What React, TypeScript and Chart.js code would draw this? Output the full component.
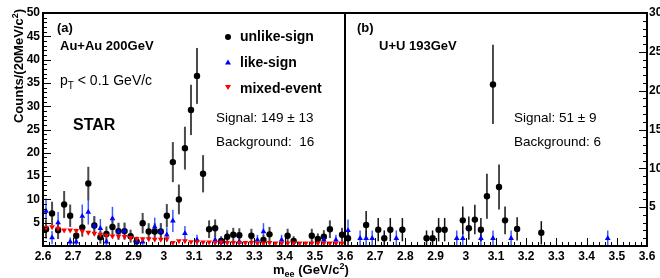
import React, { useEffect, useRef } from 'react';
import { Chart, registerables } from 'chart.js';

Chart.register(...registerables);

const FONT = '"Liberation Sans", Arial, Helvetica, sans-serif';

// ---- Panel (a): Au+Au 200 GeV ----
const auUnlikeMass = [2.61, 2.63, 2.65, 2.67, 2.69, 2.71, 2.73, 2.75, 2.77, 2.79, 2.81, 2.83, 2.85, 2.87, 2.89, 2.91, 2.93, 2.95, 2.97, 2.99, 3.01, 3.03, 3.05, 3.07, 3.09, 3.11, 3.13, 3.15, 3.17, 3.19, 3.21, 3.23, 3.25, 3.29, 3.33, 3.35, 3.41, 3.43, 3.49, 3.51, 3.53, 3.55, 3.59];
const auUnlike = [3.6, 7.0, 3.4, 8.9, 6.5, 2.2, 4.0, 13.4, 4.4, 1.9, 2.6, 4.1, 3.2, 3.2, 2.1, 1.0, 4.9, 3.1, 3.1, 3.1, 6.5, 18.0, 10.0, 21.0, 29.2, 36.5, 15.5, 3.6, 3.8, 1.1, 2.0, 2.4, 2.3, 2.2, 1.3, 2.5, 2.2, 1.1, 2.2, 1.5, 2.0, 3.6, 2.4];
const auUnlikeErr = [2.0, 2.5, 1.9, 2.9, 2.4, 1.5, 2.0, 3.6, 2.0, 1.4, 1.6, 2.0, 1.8, 1.8, 1.4, 1.0, 2.2, 1.8, 1.8, 1.8, 2.5, 4.3, 3.2, 4.6, 5.4, 6.0, 4.0, 1.9, 1.9, 1.0, 1.4, 1.5, 1.5, 1.5, 1.1, 1.6, 1.5, 1.0, 1.5, 1.2, 1.4, 1.9, 1.5];

const auLikeMass = [2.61, 2.63, 2.65, 2.69, 2.71, 2.73, 2.75, 2.77, 2.79, 2.81, 2.83, 2.85, 2.87, 2.91, 2.93, 2.97, 2.99, 3.01, 3.03, 3.07, 3.11, 3.17, 3.19, 3.25, 3.31, 3.33, 3.39, 3.53, 3.57];
const auLike = [7.5, 1.8, 5.0, 0.9, 0.9, 6.4, 7.3, 4.3, 3.8, 0.9, 5.9, 3.1, 3.2, 0.9, 0.9, 4.1, 3.1, 2.4, 5.4, 2.7, 1.3, 1.3, 0.9, 0.9, 1.3, 3.1, 1.3, 1.3, 1.3];
const auLikeErr = [2.7, 1.4, 2.3, 0.9, 0.9, 2.5, 2.7, 2.1, 2.0, 0.9, 2.5, 1.8, 1.8, 0.9, 0.9, 2.0, 1.8, 1.5, 2.4, 1.6, 1.1, 1.1, 0.9, 0.9, 1.1, 1.8, 1.1, 1.1, 1.1];

const auMixedMass = [2.61, 2.63, 2.65, 2.67, 2.69, 2.71, 2.73, 2.75, 2.77, 2.79, 2.81, 2.83, 2.85, 2.87, 2.89, 2.91, 2.93, 2.95, 2.97, 2.99, 3.01, 3.03, 3.05, 3.07, 3.09, 3.11, 3.13, 3.15, 3.17, 3.19, 3.21, 3.23, 3.25, 3.27, 3.29, 3.31, 3.33, 3.35, 3.37, 3.39, 3.41, 3.43, 3.45, 3.47, 3.49, 3.51, 3.53, 3.55, 3.57, 3.59];
const auMixed = [4.0, 4.1, 3.8, 3.4, 3.4, 3.3, 3.2, 2.9, 2.7, 2.5, 2.3, 2.1, 2.1, 2.0, 1.8, 1.6, 1.5, 1.5, 1.4, 1.4, 1.5, 0.7, 1.1, 1.1, 0.9, 0.9, 0.8, 0.8, 0.7, 0.8, 0.7, 0.7, 0.7, 0.7, 0.7, 0.6, 0.6, 0.7, 0.6, 0.6, 0.6, 0.6, 0.6, 0.6, 0.6, 0.6, 0.6, 0.6, 0.6, 0.6];

// ---- Panel (b): U+U 193 GeV ----
const uuUnlikeMass = [2.61, 2.67, 2.71, 2.73, 2.75, 2.79, 2.87, 2.89, 2.91, 2.93, 2.99, 3.01, 3.03, 3.05, 3.07, 3.09, 3.11, 3.13, 3.17, 3.25];
const uuUnlike = [1.0, 2.7, 2.1, 1.0, 2.1, 2.1, 1.0, 1.0, 2.1, 2.1, 3.3, 2.3, 3.4, 2.1, 6.4, 20.8, 7.6, 3.3, 2.2, 1.7];
const uuUnlikeErr = [1.0, 1.8, 1.5, 1.0, 1.5, 1.5, 1.0, 1.0, 1.5, 1.5, 1.8, 1.5, 1.9, 1.5, 2.9, 5.1, 2.9, 1.8, 1.5, 1.5];

const uuLikeMass = [2.61, 2.65, 2.67, 2.69, 2.77, 2.97, 2.99, 3.05, 3.09, 3.15, 3.47];
const uuLike = [2.0, 1.0, 1.0, 1.0, 1.0, 1.0, 1.0, 1.0, 1.0, 1.0, 1.0];
const uuLikeErr = [1.4, 1.0, 1.0, 1.0, 1.0, 1.0, 1.0, 1.0, 1.0, 1.0, 1.0];

// axis
const X_MIN = 2.6;
const X_SPLIT = 3.6;
const PANEL_OFFSET = 1.0; // panel (b) is placed after panel (a) on one shared axis
const Y_LEFT_MAX = 50;
const Y_RIGHT_MAX = 30;

const pts = (mass: number[], vals: number[], off = 0) => mass.map((m, i) => ({ x: m + off, y: vals[i] }));

const errorBars = {
  id: 'errorBars',
  beforeDatasetsDraw(chart: any) {
    const ctx = chart.ctx;
    chart.data.datasets.forEach((ds: any) => {
      if (!ds.errors) return;
      const xs = chart.scales.x;
      const ys = chart.scales[ds.yAxisID];
      ctx.save();
      ctx.strokeStyle = ds.errorColor;
      ctx.lineWidth = ds.errorWidth;
      ds.data.forEach((p: any, j: number) => {
        const e = ds.errors[j];
        if (!e) return;
        const px = xs.getPixelForValue(p.x);
        const y1 = ys.getPixelForValue(Math.max(0, p.y - e));
        const y2 = ys.getPixelForValue(Math.min(ys.max, p.y + e));
        ctx.beginPath();
        ctx.moveTo(px, y1);
        ctx.lineTo(px, y2);
        ctx.stroke();
      });
      ctx.restore();
    });
  },
};

const frame = {
  id: 'frame',
  afterDatasetsDraw(chart: any) {
    const ctx = chart.ctx;
    const { left, right, top, bottom } = chart.chartArea;
    const xs = chart.scales.x;
    const yl = chart.scales.y;
    const yr = chart.scales.y2;
    ctx.save();
    ctx.strokeStyle = '#000';
    ctx.lineWidth = 1;
    for (let i = 0; i <= 100; i++) {
      const px = Math.round(xs.getPixelForValue(X_MIN + i * 0.02)) + 0.5;
      const len = i % 5 === 0 ? 8 : 4;
      ctx.beginPath();
      ctx.moveTo(px, bottom);
      ctx.lineTo(px, bottom - len);
      ctx.stroke();
    }
    for (let v = 0; v <= Y_LEFT_MAX; v++) {
      const py = Math.round(yl.getPixelForValue(v)) + 0.5;
      const len = v % 5 === 0 ? 8 : 4;
      ctx.beginPath();
      ctx.moveTo(left, py);
      ctx.lineTo(left + len, py);
      ctx.stroke();
    }
    for (let v = 0; v <= Y_RIGHT_MAX; v++) {
      const py = Math.round(yr.getPixelForValue(v)) + 0.5;
      const len = v % 5 === 0 ? 8 : 4;
      ctx.beginPath();
      ctx.moveTo(right, py);
      ctx.lineTo(right - len, py);
      ctx.stroke();
    }
    ctx.lineWidth = 2;
    ctx.strokeRect(left, top, right - left, bottom - top);
    const sx = xs.getPixelForValue(X_SPLIT);
    ctx.beginPath();
    ctx.moveTo(sx, top);
    ctx.lineTo(sx, bottom);
    ctx.stroke();
    ctx.restore();
  },
};

const tickFont = { family: FONT, size: 12, weight: 'bold' as const };
const noGrid = { display: false, drawTicks: false, tickLength: 0 };

export default function App() {
  const ref = useRef<HTMLCanvasElement>(null);
  useEffect(() => {
    if (!ref.current) return;
    const common = { showLine: false, clip: false as any, borderWidth: 0 };
    const chart = new Chart(ref.current, {
      type: 'scatter',
      data: {
        datasets: [
          {
            ...common,
            label: 'mixed-event (Au+Au)',
            data: pts(auMixedMass, auMixed),
            yAxisID: 'y',
            pointStyle: 'triangle',
            rotation: 180,
            pointRadius: 3.3,
            backgroundColor: '#ff0000',
            borderColor: '#ff0000',
          } as any,
          {
            ...common,
            label: 'like-sign (Au+Au)',
            data: pts(auLikeMass, auLike),
            errors: auLikeErr,
            errorColor: '#3a5cff',
            errorWidth: 1.5,
            yAxisID: 'y',
            pointStyle: 'triangle',
            pointRadius: 3.3,
            backgroundColor: '#0000ff',
            borderColor: '#0000ff',
          } as any,
          {
            ...common,
            label: 'unlike-sign (Au+Au)',
            data: pts(auUnlikeMass, auUnlike),
            errors: auUnlikeErr,
            errorColor: '#4a4a4a',
            errorWidth: 2,
            yAxisID: 'y',
            pointStyle: 'circle',
            pointRadius: 3.2,
            backgroundColor: '#000',
            borderColor: '#000',
          } as any,
          {
            ...common,
            label: 'like-sign (U+U)',
            data: pts(uuLikeMass, uuLike, PANEL_OFFSET),
            errors: uuLikeErr,
            errorColor: '#3a5cff',
            errorWidth: 1.5,
            yAxisID: 'y2',
            pointStyle: 'triangle',
            pointRadius: 3.3,
            backgroundColor: '#0000ff',
            borderColor: '#0000ff',
          } as any,
          {
            ...common,
            label: 'unlike-sign (U+U)',
            data: pts(uuUnlikeMass, uuUnlike, PANEL_OFFSET),
            errors: uuUnlikeErr,
            errorColor: '#111',
            errorWidth: 1.5,
            yAxisID: 'y2',
            pointStyle: 'circle',
            pointRadius: 3.2,
            backgroundColor: '#000',
            borderColor: '#000',
          } as any,
        ],
      },
      options: {
        animation: false,
        responsive: false,
        maintainAspectRatio: false,
        layout: { padding: { top: 13, left: 0, right: 0, bottom: 0 } },
        plugins: { legend: { display: false }, tooltip: { enabled: false } },
        scales: {
          x: {
            type: 'linear',
            min: X_MIN,
            max: X_SPLIT + PANEL_OFFSET,
            grid: noGrid,
            border: { display: false },
            ticks: {
              stepSize: 0.1,
              autoSkip: false,
              maxRotation: 0,
              padding: 3,
              color: '#000',
              font: tickFont,
              callback: (val: any) => {
                let v = Math.round(Number(val) * 10) / 10;
                if (v > X_SPLIT + 1e-6) v = Math.round((v - PANEL_OFFSET) * 10) / 10;
                return String(v);
              },
            },
            afterFit: (s: any) => { s.height = 32; },
          },
          y: {
            type: 'linear',
            position: 'left',
            min: 0,
            max: Y_LEFT_MAX,
            grid: noGrid,
            border: { display: false },
            ticks: {
              stepSize: 5,
              padding: 3,
              color: '#000',
              font: tickFont,
              callback: (v: any) => (Number(v) === 0 ? '' : String(v)),
            },
            afterFit: (s: any) => { s.width = 43; },
          },
          y2: {
            type: 'linear',
            position: 'right',
            min: 0,
            max: Y_RIGHT_MAX,
            grid: noGrid,
            border: { display: false },
            ticks: {
              stepSize: 5,
              padding: 2,
              color: '#000',
              font: tickFont,
              callback: (v: any) => (Number(v) === 0 ? '' : String(v)),
            },
            afterFit: (s: any) => { s.width = 13; },
          },
        },
      } as any,
      plugins: [errorBars, frame],
    });
    return () => chart.destroy();
  }, []);

  const txt = (left: number, cy: number, size: number, bold: boolean, content: React.ReactNode, key: string) => (
    <div
      key={key}
      style={{
        position: 'absolute',
        left,
        top: cy,
        transform: 'translateY(-50%)',
        fontFamily: FONT,
        fontSize: size,
        fontWeight: bold ? 'bold' : 'normal',
        lineHeight: 1,
        whiteSpace: 'pre',
        color: '#000',
      }}
    >
      {content}
    </div>
  );

  return (
    <div style={{ position: 'fixed', left: 0, top: 0, width: 660, height: 278, background: '#fff', overflow: 'hidden' }}>
      <canvas ref={ref} width={660} height={278} style={{ position: 'absolute', left: 0, top: 0, width: 660, height: 278 }} />
      {txt(57, 27, 13, true, '(a)', 'a')}
      {txt(60, 45, 13, true, 'Au+Au 200GeV', 'au')}
      {txt(60, 82, 14, false, <span>p<sub style={{ fontSize: 10, verticalAlign: -4 }}>T</sub> &lt; 0.1 GeV/c</span>, 'pt')}
      {txt(73, 125, 16, true, 'STAR', 'star')}
      {txt(240, 36, 14, true, 'unlike-sign', 'l1')}
      {txt(240, 62, 14, true, 'like-sign', 'l2')}
      {txt(240, 88, 14, true, 'mixed-event', 'l3')}
      {txt(216, 118, 13.5, false, 'Signal: 149 ± 13', 's1')}
      {txt(216, 142, 13.5, false, 'Background:  16', 'b1')}
      {txt(357, 27, 13, true, '(b)', 'bb')}
      {txt(379, 45, 13, true, 'U+U 193GeV', 'uu')}
      {txt(514, 118, 13.5, false, 'Signal: 51 ± 9', 's2')}
      {txt(514, 142, 13.5, false, 'Background: 6', 'b2')}
      <svg style={{ position: 'absolute', left: 0, top: 0 }} width={660} height={278}>
        <circle cx={228} cy={37} r={3} fill="#000" />
        <polygon points="228,59.5 231,64.5 225,64.5" fill="#0000ff" />
        <polygon points="225,85 231,85 228,90" fill="#ff0000" />
      </svg>
      {txt(273, 270, 13, true, <span>m<sub style={{ fontSize: 9, verticalAlign: -3 }}>ee</sub> (GeV/c<sup style={{ fontSize: 9, verticalAlign: 5 }}>2</sup>)</span>, 'xt')}
      <div
        style={{
          position: 'absolute',
          left: 18,
          top: 66,
          transform: 'translate(-50%, -50%) rotate(-90deg)',
          fontFamily: FONT,
          fontSize: 13,
          fontWeight: 'bold',
          lineHeight: 1,
          whiteSpace: 'nowrap',
        }}
      >
        Counts/(20MeV/c<sup style={{ fontSize: 9, verticalAlign: 5 }}>2</sup>)
      </div>
    </div>
  );
}
